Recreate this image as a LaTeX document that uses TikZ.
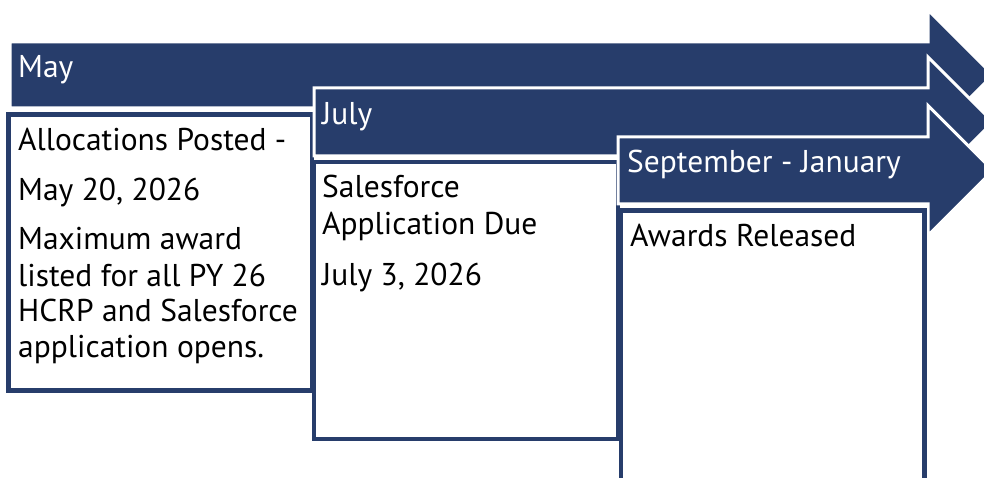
\documentclass[tikz,border=0pt]{standalone}
\usepackage{fontspec}
\setmainfont{PT Sans}
\definecolor{navy}{RGB}{39,61,107}
\tikzset{
  x=1pt, y=-1pt,
  phasebar/.style={fill=navy, draw=white, line width=3pt, line join=miter},
  phasebox/.style={fill=white, draw=navy, line width=4.5pt},
  barlabel/.style={anchor=base west, inner sep=0pt, text=white, font=\fontsize{31.5}{36}\selectfont},
  boxtext/.style={anchor=base west, inner sep=0pt, text=black, font=\fontsize{31.5}{36}\selectfont},
}
% chevron-ended bar: left, right end of bar, top, bottom, head half-height
\newcommand{\phasearrow}[5]{%
  \path[phasebar] (#1,#3) -- (#2,#3) -- (#2,{(#3+#4)/2-#5}) -- ({#2+#5},{(#3+#4)/2})
    -- (#2,{(#3+#4)/2+#5}) -- (#2,#4) -- (#1,#4) -- cycle;}
\begin{document}
\begin{tikzpicture}
\path[use as bounding box, clip] (0,0) rectangle (984,478);

% May
\phasearrow{10}{928}{42}{108}{65}
\node[barlabel] (may) at (18,78) {May};
\path[phasebox] (8.5,114.5) rectangle (312,390.5);
\node[boxtext] (a1) at (18,151) {Allocations Posted -};
\node[boxtext] (a2) at (18,201) {May 20, 2026};
\node[boxtext] (a3) at (18,250) {Maximum award};
\node[boxtext] (a4) at (18,286) {listed for all PY 26};
\node[boxtext] (a5) at (18,321.5) {HCRP and Salesforce};
\node[boxtext] (a6) at (18,357) {application opens.};

% July
\phasearrow{314}{928}{88}{156}{65}
\node[barlabel] (july) at (322,125) {July};
\path[phasebox] (314,162) rectangle (618,439);
\node[boxtext] (b1) at (322,198) {Salesforce};
\node[boxtext] (b2) at (322,235) {Application Due};
\node[boxtext] (b3) at (322,285) {July 3, 2026};

% September - January
\phasearrow{618}{928}{137}{204}{65}
\node[barlabel] (sepjan) at (627,173) {September - January};
\path[phasebox] (621,210.5) rectangle (924.5,500);
\node[boxtext] (c1) at (630,247) {Awards Released};
\end{tikzpicture}
\end{document}
